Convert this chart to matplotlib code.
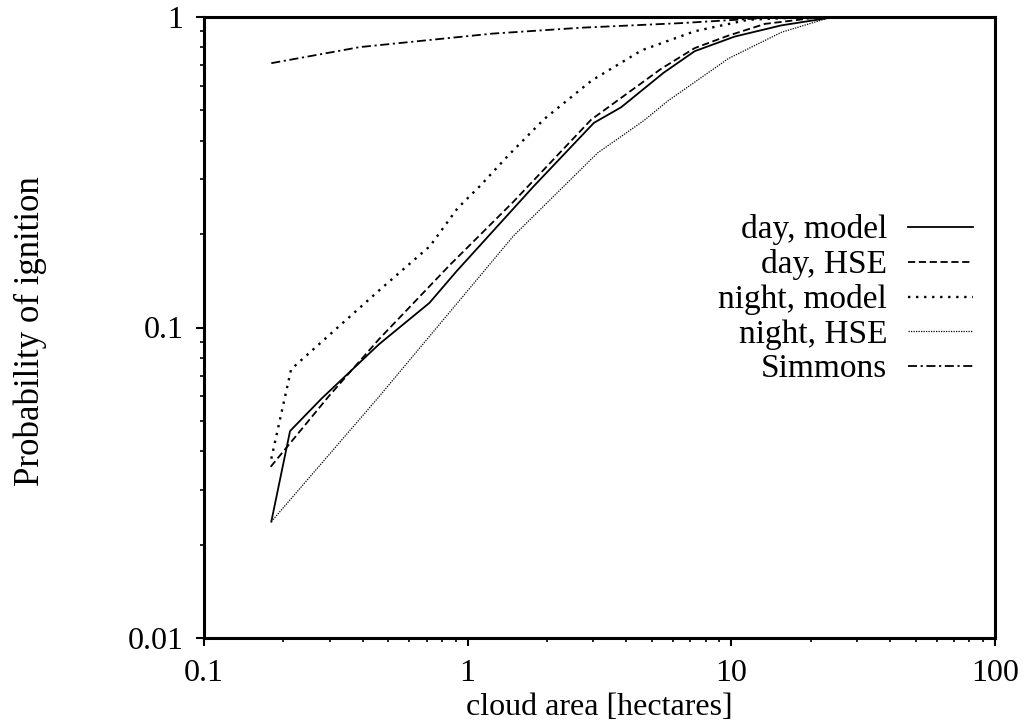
import matplotlib
matplotlib.use("Agg")
import matplotlib.pyplot as plt
from matplotlib.ticker import LogLocator, NullFormatter, FixedLocator, FixedFormatter

# ---- data ----
day_model_x = [0.18, 0.212, 0.279, 0.461, 0.716, 0.909, 1.78, 3.01, 3.82, 5.53, 7.26, 10.3, 15.5, 24.7, 30]
day_model_y = [0.0237, 0.0464, 0.059, 0.0883, 0.120, 0.152, 0.285, 0.456, 0.512, 0.661, 0.776, 0.865, 0.94, 1.0, 1.0]

day_hse_x = [0.179, 0.297, 0.461, 0.856, 1.49, 2.94, 5.43, 7.26, 9.7, 13.4, 22, 30]
day_hse_y = [0.0356, 0.060, 0.0917, 0.159, 0.254, 0.467, 0.682, 0.794, 0.87, 0.95, 1.0, 1.0]

night_model_x = [0.18, 0.214, 0.463, 0.72, 0.915, 1.12, 1.42, 1.95, 2.95, 4.57, 7.27, 11.6, 20, 30]
night_model_y = [0.0378, 0.0734, 0.132, 0.183, 0.242, 0.287, 0.357, 0.469, 0.624, 0.781, 0.90, 0.98, 1.0, 1.0]

night_hse_x = [0.18, 0.459, 1.49, 3.11, 4.66, 5.75, 9.75, 15.5, 24, 30]
night_hse_y = [0.0237, 0.0596, 0.197, 0.365, 0.464, 0.537, 0.735, 0.893, 1.0, 1.0]

simmons_x = [0.18, 0.39, 1.24, 2.72, 6.5, 15.5, 30]
simmons_y = [0.71, 0.80, 0.884, 0.924, 0.956, 1.0, 1.0]

labels = ["day, model", "day, HSE", "night, model", "night, HSE", "Simmons"]
x_ticks = [0.1, 1, 10, 100]
x_ticklabels = ["0.1", "1", "10", "100"]
y_ticks = [0.01, 0.1, 1]
y_ticklabels = ["0.01", "0.1", "1"]

plt.rcParams['font.family'] = ['Liberation Serif', 'DejaVu Serif']

fig = plt.figure(figsize=(10.34, 7.28), dpi=100)
ax = fig.add_axes([204/1034, 1 - 638/728, 791/1034, 621/728])

lw = 1.3
ax.plot(day_model_x, day_model_y, color='black', lw=lw, linestyle='-', label=labels[0])
ax.plot(day_hse_x, day_hse_y, color='black', lw=lw, linestyle=(0, (4, 2)), label=labels[1])
ax.plot(night_model_x, night_model_y, color='black', lw=lw + 0.4, linestyle=(0, (1.0, 2.4)), label=labels[2])
ax.plot(night_hse_x, night_hse_y, color='black', lw=0.9, linestyle=(0, (1, 1)), label=labels[3])
ax.plot(simmons_x, simmons_y, color='black', lw=lw, linestyle=(0, (5, 2, 1.2, 2)), label=labels[4])

ax.set_xscale('log')
ax.set_yscale('log')
ax.set_xlim(0.1, 100)
ax.set_ylim(0.01, 1)

ax.xaxis.set_major_locator(FixedLocator(x_ticks))
ax.xaxis.set_major_formatter(FixedFormatter(x_ticklabels))
ax.yaxis.set_major_locator(FixedLocator(y_ticks))
ax.yaxis.set_major_formatter(FixedFormatter(y_ticklabels))
ax.xaxis.set_minor_locator(LogLocator(base=10, subs=range(2, 10)))
ax.yaxis.set_minor_locator(LogLocator(base=10, subs=range(2, 10)))
ax.xaxis.set_minor_formatter(NullFormatter())
ax.yaxis.set_minor_formatter(NullFormatter())

ax.tick_params(which='major', direction='out', length=6, width=1.5, labelsize=23, pad=9,
               top=False, right=False)
ax.tick_params(which='minor', direction='out', length=3, width=1.2, top=False, right=False)

for s in ax.spines.values():
    s.set_linewidth(2.2)

ax.set_xlabel("cloud area [hectares]", fontsize=23)
ax.set_ylabel("Probability of ignition", fontsize=25)
ax.xaxis.set_label_coords(0.5, -0.088)
ax.yaxis.set_label_coords(-0.198, 0.494)

leg = ax.legend(loc='upper right', bbox_to_anchor=(0.972, 0.682), markerfirst=False,
                frameon=False, fontsize=24, handlelength=1.95, handletextpad=0.62,
                labelspacing=0.12, borderpad=0, borderaxespad=0)

fig.savefig("out.png", dpi=100)
